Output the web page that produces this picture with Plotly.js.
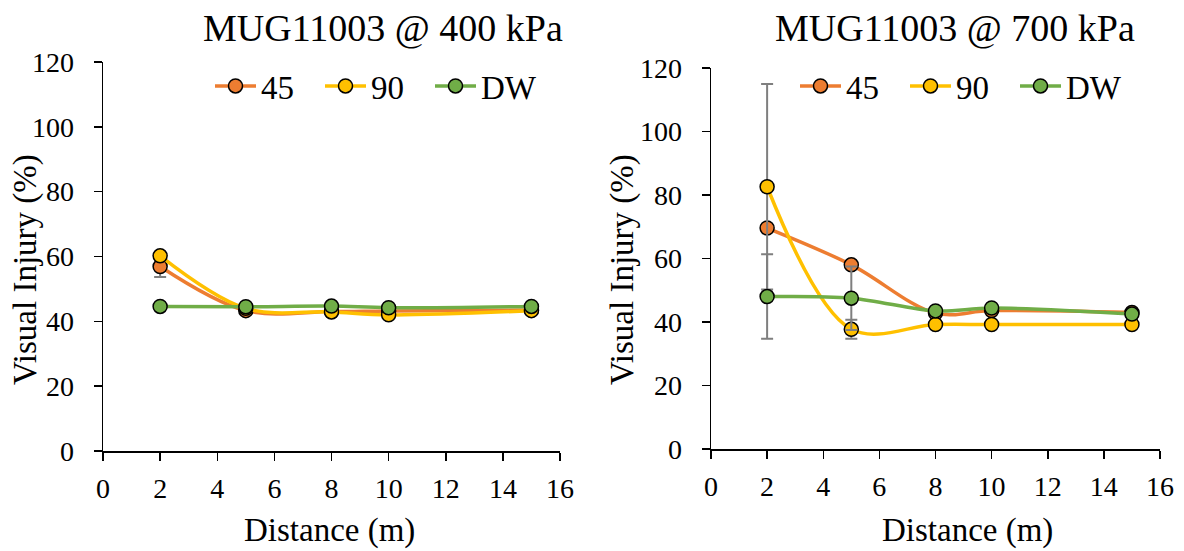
<!DOCTYPE html>
<html>
<head>
<meta charset="utf-8">
<script src="https://cdn.plot.ly/plotly-3.0.1.min.js"></script>
<style>html,body{margin:0;padding:0;background:#fff;}#chart{width:1184px;height:551px;}</style>
</head>
<body>
<div id="chart"></div>
<script>
// ---- data ----
const distance = [2, 5, 8, 10, 15];
const seriesNames = ['45', '90', 'DW'];

// MUG11003 @ 400 kPa
const left45 = [56.9, 43.3, 43.0, 43.2, 43.5];
const left90 = [60.2, 44.0, 42.9, 42.0, 43.3];
const leftDW = [44.6, 44.5, 44.7, 44.2, 44.6];
const left45Err = [3.2, 0.5, 0.5, 0.5, 0.5];
const left90Err = [0.5, 0.5, 0.5, 0.5, 0.5];
const leftDWErr = [0.5, 0.5, 0.5, 0.5, 0.5];

// MUG11003 @ 700 kPa
const right45 = [69.6, 58.0, 42.8, 43.6, 43.0];
const right90 = [82.6, 37.7, 39.2, 39.2, 39.2];
const rightDW = [48.0, 47.5, 43.5, 44.4, 42.5];
const right45Err = [1.0, 1.0, 0.5, 0.5, 0.5];
const right90Err = [32.4, 3.0, 0.5, 0.5, 0.5];
const rightDWErr = [13.3, 10.0, 0.5, 0.5, 0.5];

const xTickVals = [0, 2, 4, 6, 8, 10, 12, 14, 16];
const yTickVals = [0, 20, 40, 60, 80, 100, 120];

const titles = ['MUG11003 @ 400 kPa', 'MUG11003 @ 700 kPa'];
const xTitle = 'Distance (m)';
const yTitle = 'Visual Injury (%)';

// ---- styling ----
const colors = ['#ED7D31', '#FFC000', '#70AD47'];
const FONT = 'Liberation Serif';

function mk(name, y, err, color, xa, ya, lg) {
  return {
    x: distance, y: y, type: 'scatter', mode: 'lines+markers', name: name,
    xaxis: xa, yaxis: ya, legend: lg, showlegend: true,
    line: {color: color, width: 3.5, shape: 'spline', smoothing: 1},
    marker: {size: 14, color: color, line: {color: '#000', width: 1.5}},
    error_y: {type: 'data', array: err, visible: true, color: '#7F7F7F', thickness: 2, width: 6}
  };
}

const data = [
  mk(seriesNames[0], left45, left45Err, colors[0], 'x', 'y', 'legend'),
  mk(seriesNames[1], left90, left90Err, colors[1], 'x', 'y', 'legend'),
  mk(seriesNames[2], leftDW, leftDWErr, colors[2], 'x', 'y', 'legend'),
  mk(seriesNames[0], right45, right45Err, colors[0], 'x2', 'y2', 'legend2'),
  mk(seriesNames[1], right90, right90Err, colors[1], 'x2', 'y2', 'legend2'),
  mk(seriesNames[2], rightDW, rightDWErr, colors[2], 'x2', 'y2', 'legend2')
];

function ax(extra) {
  return Object.assign({
    showline: true, linecolor: '#000', linewidth: 1.5, mirror: false,
    ticks: 'outside', ticklen: 8, tickwidth: 1.5, tickcolor: '#000',
    showgrid: false, zeroline: false, automargin: false,
    tickfont: {family: FONT, size: 28, color: '#000'},
    fixedrange: true
  }, extra);
}

const W = 1184, H = 551;
const px = v => v / W, py = v => 1 - v / H;

function leg(x) {
  return {orientation: 'h', xanchor: 'left', yanchor: 'top', x: px(x), y: py(58),
    font: {family: FONT, size: 33, color: '#000'}, bgcolor: 'rgba(0,0,0,0)',
    itemwidth: 41, entrywidth: 54, entrywidthmode: 'pixels', tracegroupgap: 0};
}

const layout = {
  width: W, height: H,
  margin: {l: 0, r: 0, t: 0, b: 0, autoexpand: false},
  paper_bgcolor: '#fff', plot_bgcolor: '#fff',
  font: {family: FONT, color: '#000'},
  xaxis: ax({domain: [px(103), px(560)], range: [0, 16], tickvals: xTickVals, anchor: 'y', ticklabelstandoff: 4}),
  yaxis: ax({domain: [py(451), py(62)], range: [0, 120], tickvals: yTickVals, anchor: 'x', ticklabelstandoff: 14}),
  xaxis2: ax({domain: [px(711), px(1160)], range: [0, 16], tickvals: xTickVals, anchor: 'y2', ticklabelstandoff: 4}),
  yaxis2: ax({domain: [py(449), py(68)], range: [0, 120], tickvals: yTickVals, anchor: 'x2', ticklabelstandoff: 14}),
  legend: leg(210),
  legend2: leg(795),
  annotations: [
    {text: titles[0], xref: 'paper', yref: 'paper', x: px(383), y: py(28), xanchor: 'center', yanchor: 'middle', showarrow: false, font: {family: FONT, size: 38, color: '#000'}},
    {text: titles[1], xref: 'paper', yref: 'paper', x: px(955), y: py(28), xanchor: 'center', yanchor: 'middle', showarrow: false, font: {family: FONT, size: 38, color: '#000'}},
    {text: xTitle, xref: 'paper', yref: 'paper', x: px(329), y: py(530), xanchor: 'center', yanchor: 'middle', showarrow: false, font: {family: FONT, size: 33, color: '#000'}},
    {text: xTitle, xref: 'paper', yref: 'paper', x: px(967), y: py(530), xanchor: 'center', yanchor: 'middle', showarrow: false, font: {family: FONT, size: 33, color: '#000'}},
    {text: yTitle, xref: 'paper', yref: 'paper', x: px(25), y: py(270), xanchor: 'center', yanchor: 'middle', textangle: -90, showarrow: false, font: {family: FONT, size: 33, color: '#000'}},
    {text: yTitle, xref: 'paper', yref: 'paper', x: px(622), y: py(270), xanchor: 'center', yanchor: 'middle', textangle: -90, showarrow: false, font: {family: FONT, size: 33, color: '#000'}}
  ]
};

Plotly.newPlot('chart', data, layout, {displayModeBar: false, staticPlot: true});
</script>
</body>
</html>
